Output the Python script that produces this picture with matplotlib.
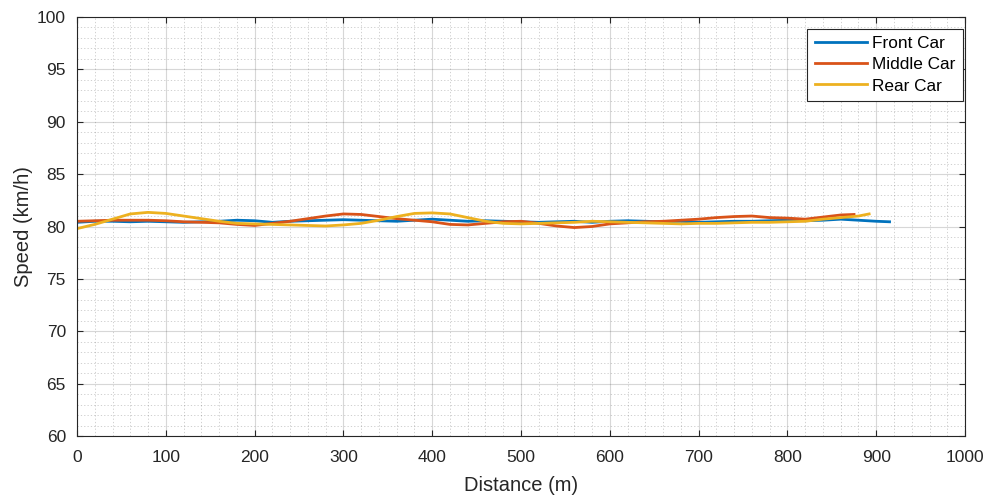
import numpy as np
import matplotlib
matplotlib.use("Agg")
import matplotlib.pyplot as plt
from matplotlib.ticker import MultipleLocator

plt.rcParams['font.family'] = ['Liberation Sans', 'DejaVu Sans']

# distances (m) and speeds (km/h)
dist_front = list(range(0, 901, 20)) + [915]
speed_front = [80.4, 80.5, 80.5, 80.45, 80.5, 80.45, 80.4, 80.45, 80.5, 80.6, 80.55,
               80.4, 80.5, 80.55, 80.6, 80.65, 80.6, 80.55, 80.5, 80.6, 80.7,
               80.6, 80.5, 80.55, 80.5, 80.45, 80.4, 80.45, 80.5, 80.4, 80.5,
               80.55, 80.5, 80.45, 80.5, 80.4, 80.45, 80.5, 80.5, 80.55, 80.6,
               80.55, 80.6, 80.7, 80.6, 80.5, 80.45]

dist_middle = list(range(0, 861, 20)) + [875]
speed_middle = [80.5, 80.55, 80.6, 80.6, 80.6, 80.55, 80.45, 80.4, 80.35, 80.2, 80.1,
                80.3, 80.5, 80.75, 81.0, 81.2, 81.15, 80.95, 80.75, 80.6, 80.45,
                80.2, 80.15, 80.3, 80.45, 80.5, 80.3, 80.05, 79.9, 80.0, 80.25,
                80.35, 80.45, 80.5, 80.6, 80.7, 80.85, 80.95, 81.0, 80.85, 80.8,
                80.7, 80.9, 81.1, 81.15]

dist_rear = list(range(0, 881, 20)) + [892]
speed_rear = [79.8, 80.2, 80.7, 81.2, 81.35, 81.25, 81.0, 80.75, 80.5, 80.3, 80.25,
              80.2, 80.15, 80.1, 80.05, 80.15, 80.3, 80.6, 80.95, 81.25, 81.3,
              81.2, 80.85, 80.5, 80.3, 80.25, 80.3, 80.35, 80.4, 80.5, 80.45,
              80.4, 80.35, 80.3, 80.25, 80.3, 80.3, 80.35, 80.4, 80.4, 80.45,
              80.5, 80.7, 80.85, 81.0, 81.2]

fig = plt.figure(figsize=(9.91, 4.97), dpi=100)
ax = fig.add_axes([0.0777, 0.1227, 0.8961, 0.8431])

ax.plot(dist_front, speed_front, color='#0072BD', lw=2, label='Front Car')
ax.plot(dist_middle, speed_middle, color='#D95319', lw=2, label='Middle Car')
ax.plot(dist_rear, speed_rear, color='#EDB120', lw=2, label='Rear Car')

ax.set_xlim(0, 1000)
ax.set_ylim(60, 100)
ax.xaxis.set_major_locator(MultipleLocator(100))
ax.xaxis.set_minor_locator(MultipleLocator(20))
ax.yaxis.set_major_locator(MultipleLocator(5))
ax.yaxis.set_minor_locator(MultipleLocator(1))

ax.grid(which='major', color='#262626', alpha=0.18, lw=0.8)
ax.grid(which='minor', color='#262626', alpha=0.25, lw=0.6, ls=(0, (1.5, 2.5)))
ax.set_axisbelow(True)

ax.tick_params(which='both', direction='in', top=True, right=True,
               labelsize=12.5, colors='#262626')
ax.tick_params(which='minor', length=0)
ax.tick_params(which='major', length=4)
ax.tick_params(axis='x', pad=10)
ax.tick_params(axis='y', pad=8)
for s in ax.spines.values():
    s.set_color('#262626')
    s.set_linewidth(0.8)

ax.set_xlabel('Distance (m)', fontsize=14.5, color='#262626', labelpad=8)
ax.set_ylabel('Speed (km/h)', fontsize=14.5, color='#262626', labelpad=3)

leg = ax.legend(loc='upper right', bbox_to_anchor=(1.0075, 0.993), fontsize=12.4,
                fancybox=False, framealpha=1, edgecolor='#262626',
                handlelength=3.0, borderpad=0.45, labelspacing=0.35, handletextpad=0.3)
leg.get_frame().set_linewidth(0.8)

fig.savefig('out.png', dpi=100)
